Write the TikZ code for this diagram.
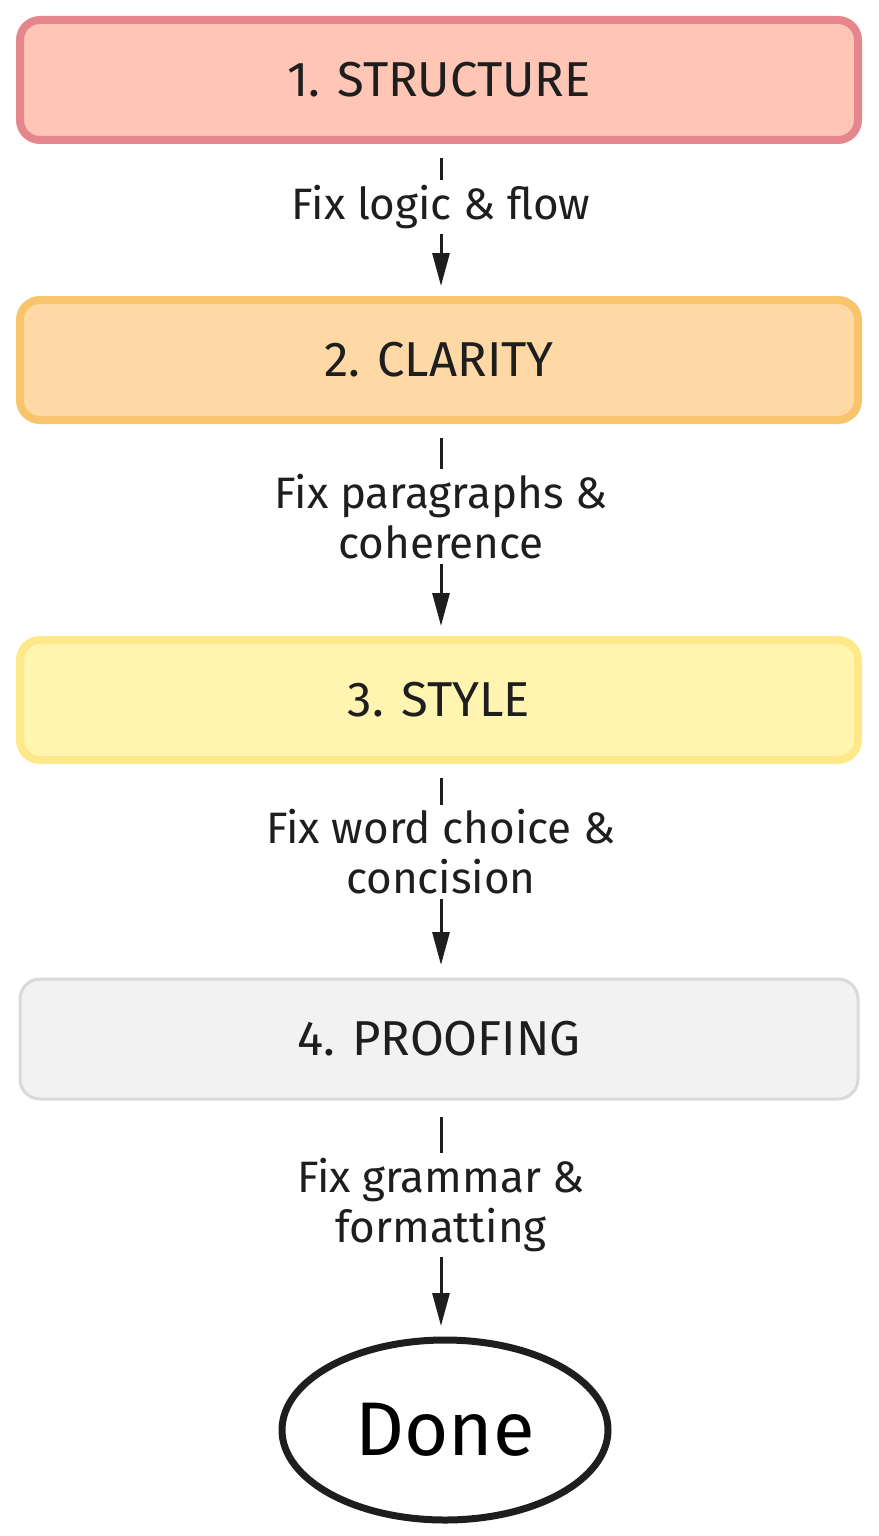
\documentclass[tikz,border=0pt]{standalone}
\usepackage{fontspec}
\setmainfont{Fira Sans}
\usepackage{xcolor}
\definecolor{redfill}{RGB}{255,198,182}
\definecolor{redline}{RGB}{229,134,140}
\definecolor{orangefill}{RGB}{254,217,166}
\definecolor{orangeline}{RGB}{248,196,108}
\definecolor{yellowfill}{RGB}{255,244,176}
\definecolor{yellowline}{RGB}{253,233,138}
\definecolor{grayfill}{RGB}{242,242,242}
\definecolor{grayline}{RGB}{217,217,217}
\definecolor{ink}{RGB}{30,30,30}
\usetikzlibrary{positioning, shapes.geometric, arrows.meta}
\tikzstyle{Stage} = [
draw,
rounded corners=20pt,
line width=8pt,
outer sep=0pt,
minimum width=838pt,
minimum height=120pt,
text=ink,
font=\fontsize{49}{56}\selectfont]
\tikzstyle{Step} = [
fill=white,
align=center,
inner sep=5pt,
text=ink,
font=\fontsize{44}{50}\selectfont]
\tikzstyle{Arrow} = [
ink,
line width=3pt,
-{Triangle[length=33pt,width=17pt]},
shorten <= 18pt, shorten >= 14pt]

\begin{document}
\begin{tikzpicture}[x=1pt, y=-1pt]
    \useasboundingbox (0,0) rectangle (878,1536);
    \node [Stage, fill=redfill, draw=redline] at (439,80) (1) {1. STRUCTURE};
    \node [Stage, fill=orangefill, draw=orangeline, below =160pt of 1] (2) {2. CLARITY};
    \node [Stage, fill=yellowfill, draw=yellowline, below =220pt of 2] (3) {3. STYLE};
    \node [Stage, fill=grayfill, draw=grayline, line width=3pt, below =219pt of 3] (4) {4. PROOFING};
    \node [ellipse, draw=ink, line width=7pt, outer sep=0pt,
        minimum width=326pt, minimum height=180pt,
        font=\fontsize{76}{80}\selectfont, below =241pt of 4, xshift=6pt] (5) {Done};

    \draw[Arrow] (1.south -| 441,0) -- node[Step, pos=0.42] {Fix logic \& flow} (2.north -| 441,0);
    \draw[Arrow] (2.south -| 441,0) -- node[Step, pos=0.44] {Fix paragraphs \&\\coherence} (3.north -| 441,0);
    \draw[Arrow] (3.south -| 441,0) -- node[Step, pos=0.42] {Fix word choice \&\\concision} (4.north -| 441,0);
    \draw[Arrow] (4.south -| 441,0) -- node[Step, pos=0.44] {Fix grammar \&\\formatting} (5.north -| 441,0);
\end{tikzpicture}
\end{document}
